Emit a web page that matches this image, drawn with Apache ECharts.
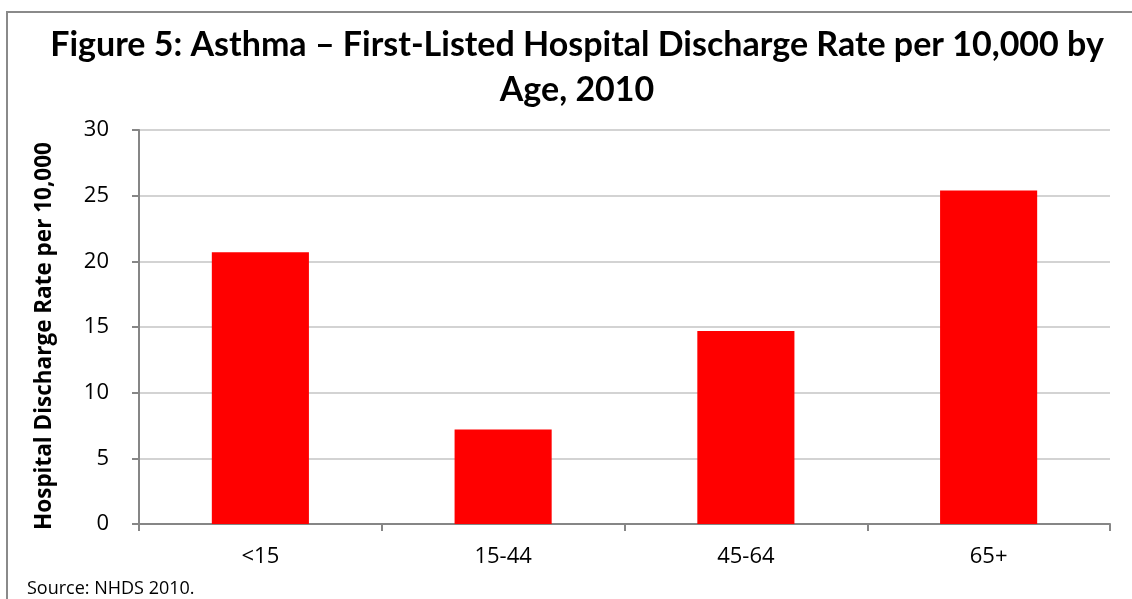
<!DOCTYPE html>
<html>
<head>
<meta charset="utf-8">
<title>Asthma discharge rate by age</title>
<script src="https://cdn.jsdelivr.net/npm/echarts@6/dist/echarts.min.js"></script>
<style>
  html, body { margin: 0; padding: 0; background: #fff; }
  #chart { width: 1132px; height: 599px; }
</style>
</head>
<body>
<div id="chart"></div>
<script>
// data
const ageGroups = ['<15', '15-44', '45-64', '65+']
const dischargeRate = [20.7, 7.2, 14.7, 25.4]
const yTicks = [0, 5, 10, 15, 20, 25, 30]

const titleText = 'Figure 5: Asthma – First-Listed Hospital Discharge Rate per 10,000 by\nAge, 2010'
const yName = 'Hospital Discharge Rate per 10,000'
const sourceNote = 'Source: NHDS 2010.'

const AXIS_GREY = '#868686'
const GRID_GREY = '#c4c4c4'
const LABEL_FONT = '"Open Sans", sans-serif'
const TITLE_FONT = 'Lato, "Open Sans", sans-serif'

const chart = echarts.init(document.getElementById('chart'), null, { renderer: 'canvas' })

chart.setOption({
  backgroundColor: '#fff',
  animation: false,
  title: {
    text: titleText,
    left: 572,
    top: 18,
    textAlign: 'center',
    textStyle: {
      fontFamily: TITLE_FONT,
      fontWeight: 'bold',
      fontSize: 34,
      lineHeight: 45,
      color: '#000',
    },
  },
  grid: { left: 139, right: 22, top: 130, bottom: 75, containLabel: false },
  xAxis: {
    type: 'category',
    data: ageGroups,
    axisLine: { lineStyle: { color: AXIS_GREY, width: 2 } },
    axisTick: { show: true, length: 7, lineStyle: { color: AXIS_GREY, width: 2 } },
    axisLabel: { color: '#000', fontFamily: LABEL_FONT, fontSize: 22, margin: 22 },
  },
  yAxis: {
    type: 'value',
    min: yTicks[0],
    max: yTicks[yTicks.length - 1],
    interval: yTicks[1] - yTicks[0],
    name: yName,
    nameLocation: 'middle',
    nameGap: 83,
    nameTextStyle: {
      fontFamily: LABEL_FONT,
      fontWeight: 'bold',
      fontSize: 22.5,
      color: '#000',
      padding: [0, 18, 0, 0],
    },
    axisLine: { show: true, lineStyle: { color: AXIS_GREY, width: 2 } },
    axisTick: { show: true, length: 7, lineStyle: { color: AXIS_GREY, width: 2 } },
    axisLabel: { color: '#000', fontFamily: LABEL_FONT, fontSize: 22, margin: 30 },
    splitLine: { lineStyle: { color: GRID_GREY, width: 1.5 } },
  },
  series: [
    {
      type: 'bar',
      data: dischargeRate,
      barWidth: '40%',
      itemStyle: { color: '#ff0000' },
    },
  ],
  graphic: [
    {
      type: 'rect',
      shape: { x: 7, y: 12, width: 1140, height: 600 },
      style: { fill: 'none', stroke: '#8a8a8a', lineWidth: 2 },
      silent: true,
    },
    {
      type: 'text',
      left: 27,
      top: 580,
      style: { text: sourceNote, fontFamily: LABEL_FONT, fontSize: 18, fill: '#000' },
    },
  ],
})
</script>
</body>
</html>
